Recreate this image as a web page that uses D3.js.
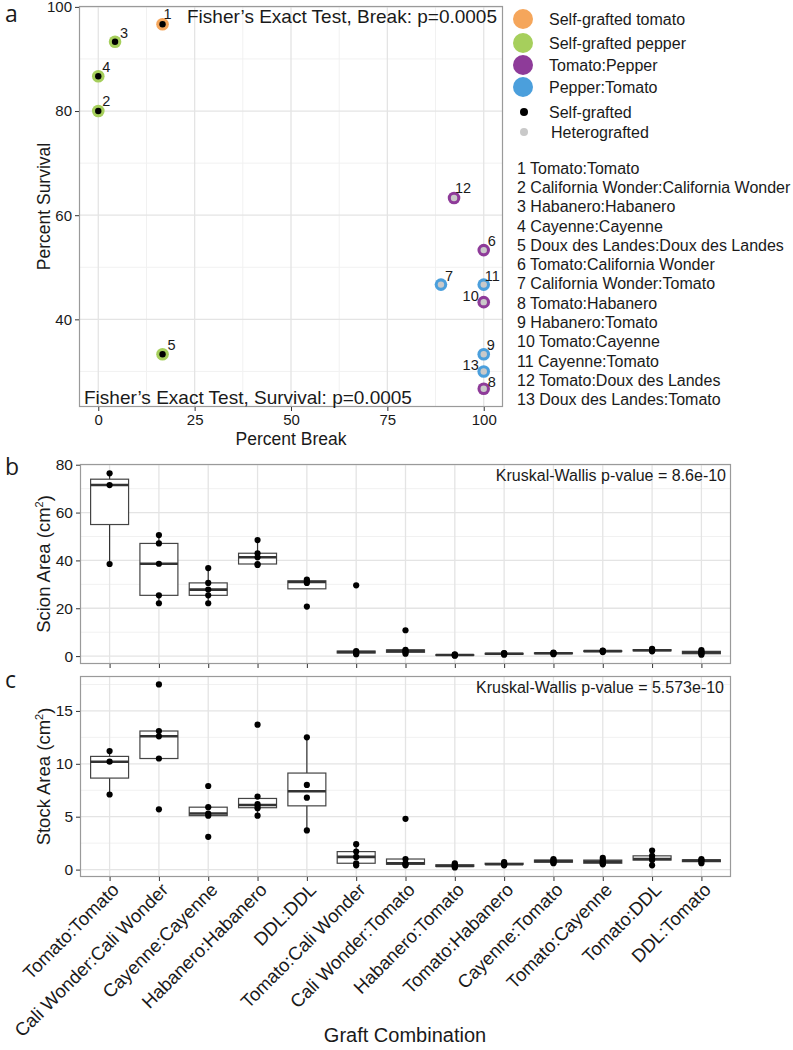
<!DOCTYPE html>
<html><head><meta charset="utf-8">
<script src="https://cdn.jsdelivr.net/npm/d3@7"></script>
<style>
body{margin:0;background:#fff}
svg{display:block}
text{font-family:"Liberation Sans",Arial,sans-serif;fill:#1a1a1a}
</style>
</head><body>
<svg id="chart" width="793" height="1050"></svg>
<script>
// ---------- DATA: panel a ----------
const graftIds = [1,2,3,4,5,6,7,8,9,10,11,12,13];
const graftNames = ["Tomato:Tomato","California Wonder:California Wonder","Habanero:Habanero","Cayenne:Cayenne",
  "Doux des Landes:Doux des Landes","Tomato:California Wonder","California Wonder:Tomato","Tomato:Habanero",
  "Habanero:Tomato","Tomato:Cayenne","Cayenne:Tomato","Tomato:Doux des Landes","Doux des Landes:Tomato"];
const groupNames = ["Self-grafted tomato","Self-grafted pepper","Tomato:Pepper","Pepper:Tomato"];
const typeNames = ["Self-grafted","Heterografted"];
const pointGroup = [0,1,1,1,1,2,3,2,3,2,3,2,3];
const pointType  = [0,0,0,0,0,1,1,1,1,1,1,1,1];
const percentBreak    = [16.67,0,4.35,0,16.67,100,88.9,100,100,100,100,92.3,100];
const percentSurvival = [96.67,80,93.3,86.67,33.3,53.3,46.67,26.67,33.3,43.3,46.67,63.3,30];
const breakTicks = [0,25,50,75,100];
const survivalTicks = [40,60,80,100];
const fisherBreak = "Fisher\u2019s Exact Test, Break: p=0.0005";
const fisherSurvival = "Fisher\u2019s Exact Test, Survival: p=0.0005";

// ---------- DATA: panels b, c ----------
const combos = ["Tomato:Tomato","Cali Wonder:Cali Wonder","Cayenne:Cayenne","Habanero:Habanero","DDL:DDL",
  "Tomato:Cali Wonder","Cali Wonder:Tomato","Habanero:Tomato","Tomato:Habanero","Cayenne:Tomato",
  "Tomato:Cayenne","Tomato:DDL","DDL:Tomato"];
const scionArea = [
  [38.5,71.5,76.4],
  [22.1,25.4,38.6,47.1,50.6],
  [22.1,25.4,27.8,30.6,36.8],
  [38.1,38.5,41.3,43.0,48.5],
  [20.7,30.6,31.3,32.0],
  [0.8,1.3,1.7,2.1,29.6],
  [1.0,1.6,2.2,2.6,10.8],
  [0.2,0.4,0.5,0.7],
  [0.6,0.9,1.1,1.3],
  [0.8,1.1,1.3,1.5],
  [1.7,2.0,2.2,2.3],
  [2.0,2.3,2.6,3.0],
  [0.6,1.0,1.5,2.0,2.5]
];
const stockArea = [
  [7.1,10.2,11.2],
  [5.7,10.5,12.6,13.1,17.5],
  [3.1,5.1,5.3,5.9,7.9],
  [5.1,5.8,6.0,6.2,6.9,13.7],
  [3.7,6.8,8.0,12.5],
  [0.4,0.6,1.2,1.7,2.4],
  [0.4,0.5,0.6,1.0,4.8],
  [0.2,0.3,0.35,0.45,0.6],
  [0.4,0.5,0.5,0.6,0.7],
  [0.6,0.7,0.8,0.9,1.0],
  [0.5,0.6,0.75,0.9,1.1],
  [0.4,0.9,1.0,1.3,1.8],
  [0.6,0.8,0.9,1.0]
];
const scionTicks = [0,20,40,60,80];
const stockTicks = [0,5,10,15];
const kwScion = "Kruskal-Wallis p-value = 8.6e-10";
const kwStock = "Kruskal-Wallis p-value = 5.573e-10";

// ---------- STYLE ----------
const groupColors = ["#f5a65b","#a6cf5c","#8e3b99","#4b9fdc"];
const typeColors = ["#000000","#c9c9c9"];
const labelOffsets = [[1,-10],[4,-10],[5,-9],[4,-9],[5,-9],[4,-9],[4,-9],[4,-7],[3,-9],[-5,-6],[1,-9],[1,-10],[-5,-7]];
const gridMajor = "#e4e4e4", gridMinor = "#f1f1f1", borderCol = "#9a9a9a", tickCol = "#333";

const svg = d3.select("#chart");

function panelBg(l,t,r,b){
  svg.append("rect").attr("x",l).attr("y",t).attr("width",r-l).attr("height",b-t).attr("fill","#fff");
}
function panelBorder(l,t,r,b){
  svg.append("rect").attr("x",l+0.5).attr("y",t+0.5).attr("width",r-l-1).attr("height",b-t-1)
    .attr("fill","none").attr("stroke",borderCol).attr("stroke-width",1.2);
}

// ---------- PANEL A ----------
const A = {l:79,r:503,t:6,b:407};
const ax = d3.scaleLinear().domain([-5,105]).range([A.l,A.r]);
const ay = d3.scaleLinear().domain([23.17,100.17]).range([A.b,A.t]);
panelBg(A.l,A.t,A.r,A.b);
const ga = svg.append("g");
ga.selectAll(".mx").data([12.5,37.5,62.5,87.5]).join("line")
  .attr("x1",d=>ax(d)).attr("x2",d=>ax(d)).attr("y1",A.t).attr("y2",A.b).attr("stroke",gridMinor).attr("stroke-width",1);
ga.selectAll(".my").data([30,50,70,90]).join("line")
  .attr("y1",d=>ay(d)).attr("y2",d=>ay(d)).attr("x1",A.l).attr("x2",A.r).attr("stroke",gridMinor).attr("stroke-width",1);
ga.selectAll(".Mx").data(breakTicks).join("line")
  .attr("x1",d=>ax(d)).attr("x2",d=>ax(d)).attr("y1",A.t).attr("y2",A.b).attr("stroke",gridMajor).attr("stroke-width",1.3);
ga.selectAll(".My").data(survivalTicks).join("line")
  .attr("y1",d=>ay(d)).attr("y2",d=>ay(d)).attr("x1",A.l).attr("x2",A.r).attr("stroke",gridMajor).attr("stroke-width",1.3);
panelBorder(A.l,A.t,A.r,A.b);

const axA = svg.append("g").attr("transform",`translate(0,${A.b})`)
  .call(d3.axisBottom(ax).tickValues(breakTicks).tickSize(4).tickPadding(3));
const ayA = svg.append("g").attr("transform",`translate(${A.l},0)`)
  .call(d3.axisLeft(ay).tickValues(survivalTicks).tickSize(4).tickPadding(3));
[axA,ayA].forEach(g=>{
  g.select(".domain").remove();
  g.selectAll(".tick line").attr("stroke",tickCol);
  g.selectAll(".tick text").attr("font-size",15).style("font-family","Liberation Sans, Arial").attr("fill","#1a1a1a");
});
svg.append("text").attr("x",(A.l+A.r)/2).attr("y",445).attr("text-anchor","middle").attr("font-size",17.5).text("Percent Break");
svg.append("text").attr("transform",`translate(50,${(A.t+A.b)/2}) rotate(-90)`).attr("text-anchor","middle").attr("font-size",17.5).text("Percent Survival");

const pts = graftIds.map((id,i)=>({id,x:percentBreak[i],y:percentSurvival[i],g:pointGroup[i],t:pointType[i],off:labelOffsets[i]}));
const gp = svg.append("g");
gp.selectAll("circle.o").data(pts).join("circle").attr("class","o")
  .attr("cx",d=>ax(d.x)).attr("cy",d=>ay(d.y)).attr("r",6.3).attr("fill",d=>groupColors[d.g]);
gp.selectAll("circle.i").data(pts).join("circle").attr("class","i")
  .attr("cx",d=>ax(d.x)).attr("cy",d=>ay(d.y)).attr("r",3.2).attr("fill",d=>typeColors[d.t]);
gp.selectAll("text").data(pts).join("text")
  .attr("x",d=>ax(d.x)+d.off[0]).attr("y",d=>ay(d.y)+d.off[1]).attr("dy","0.35em")
  .attr("text-anchor",d=>d.off[0]<0?"end":"start").attr("font-size",14.5).text(d=>d.id);

svg.append("text").attr("x",A.r-6).attr("y",23).attr("text-anchor","end").attr("font-size",19).text(fisherBreak);
svg.append("text").attr("x",A.l+5).attr("y",404).attr("text-anchor","start").attr("font-size",19).text(fisherSurvival);

// legend
const lg = svg.append("g");
const legY = [19,43,65,87];
groupNames.forEach((n,i)=>{
  lg.append("circle").attr("cx",523).attr("cy",legY[i]).attr("r",10).attr("fill",groupColors[i]);
  lg.append("text").attr("x",549).attr("y",legY[i]).attr("dy","0.35em").attr("font-size",16).text(n);
});
const typeY = [112,132];
typeNames.forEach((n,i)=>{
  lg.append("circle").attr("cx",524).attr("cy",typeY[i]).attr("r",4).attr("fill",typeColors[i]);
  lg.append("text").attr("x",i?551:549).attr("y",typeY[i]).attr("dy","0.35em").attr("font-size",16).text(n);
});
graftNames.forEach((n,i)=>{
  lg.append("text").attr("x",517).attr("y",168+i*19.3).attr("dy","0.35em").attr("font-size",16).text(graftIds[i]+" "+n);
});

// ---------- PANELS B & C ----------
function boxStats(v){
  const s = v.slice().sort(d3.ascending);
  const q1 = d3.quantile(s,0.25), med = d3.quantile(s,0.5), q3 = d3.quantile(s,0.75);
  const iqr = q3-q1;
  const lo = d3.min(s.filter(d=>d>=q1-1.5*iqr)), hi = d3.max(s.filter(d=>d<=q3+1.5*iqr));
  return {q1,med,q3,lo,hi,vals:s};
}
function boxPanel(P, data, ticks, minor, domain, showLabels){
  const x = d3.scalePoint().domain(combos).range([P.l,P.r]).padding(0.6);
  const y = d3.scaleLinear().domain(domain).range([P.b,P.t]);
  panelBg(P.l,P.t,P.r,P.b);
  const g = svg.append("g");
  g.selectAll(".my").data(minor).join("line")
    .attr("y1",d=>y(d)).attr("y2",d=>y(d)).attr("x1",P.l).attr("x2",P.r).attr("stroke",gridMinor).attr("stroke-width",1);
  g.selectAll(".My").data(ticks).join("line")
    .attr("y1",d=>y(d)).attr("y2",d=>y(d)).attr("x1",P.l).attr("x2",P.r).attr("stroke",gridMajor).attr("stroke-width",1.3);
  g.selectAll(".Mx").data(combos).join("line")
    .attr("x1",d=>x(d)).attr("x2",d=>x(d)).attr("y1",P.t).attr("y2",P.b).attr("stroke",gridMajor).attr("stroke-width",1.3);
  const bw = x.step()*0.77;
  const st = data.map((v,i)=>({c:combos[i],...boxStats(v)}));
  const bg = svg.append("g");
  bg.selectAll("line.w1").data(st).join("line")
    .attr("x1",d=>x(d.c)).attr("x2",d=>x(d.c)).attr("y1",d=>y(d.q3)).attr("y2",d=>y(d.hi)).attr("stroke","#333").attr("stroke-width",1.2);
  bg.selectAll("line.w2").data(st).join("line")
    .attr("x1",d=>x(d.c)).attr("x2",d=>x(d.c)).attr("y1",d=>y(d.q1)).attr("y2",d=>y(d.lo)).attr("stroke","#333").attr("stroke-width",1.2);
  bg.selectAll("rect").data(st).join("rect")
    .attr("x",d=>x(d.c)-bw/2).attr("width",bw).attr("y",d=>y(d.q3)).attr("height",d=>Math.max(0,y(d.q1)-y(d.q3)))
    .attr("fill","#fff").attr("stroke","#444").attr("stroke-width",1.2);
  bg.selectAll("line.m").data(st).join("line")
    .attr("x1",d=>x(d.c)-bw/2).attr("x2",d=>x(d.c)+bw/2).attr("y1",d=>y(d.med)).attr("y2",d=>y(d.med))
    .attr("stroke","#333").attr("stroke-width",2.6);
  const allPts = data.flatMap((v,i)=>v.map(val=>({c:combos[i],v:val})));
  bg.selectAll("circle").data(allPts).join("circle")
    .attr("cx",d=>x(d.c)).attr("cy",d=>y(d.v)).attr("r",3.1).attr("fill","#000");
  panelBorder(P.l,P.t,P.r,P.b);
  const xa = svg.append("g").attr("transform",`translate(0,${P.b})`)
    .call(d3.axisBottom(x).tickSize(4).tickPadding(2));
  const ya = svg.append("g").attr("transform",`translate(${P.l},0)`)
    .call(d3.axisLeft(y).tickValues(ticks).tickSize(4).tickPadding(3));
  [xa,ya].forEach(gg=>{
    gg.select(".domain").remove();
    gg.selectAll(".tick line").attr("stroke",tickCol);
    gg.selectAll(".tick text").attr("font-size",15.5).style("font-family","Liberation Sans, Arial").attr("fill","#1a1a1a");
  });
  if(showLabels){
    xa.selectAll(".tick text").attr("text-anchor","end").attr("y",0).attr("dy",0)
      .attr("transform","translate(10,14) rotate(-45)").attr("font-size",18.5);
  } else {
    xa.selectAll(".tick text").remove();
  }
  return {x,y};
}
const B = {l:80,r:731,t:464,b:664};
const C = {l:80,r:731,t:676,b:877};
boxPanel(B, scionArea, scionTicks, [10,30,50,70], [-3.3,80.3], false);
boxPanel(C, stockArea, stockTicks, [2.5,7.5,12.5,17.5], [-0.7,18.3], true);

svg.append("text").attr("x",B.r-5).attr("y",481).attr("text-anchor","end").attr("font-size",16).text(kwScion);
svg.append("text").attr("x",C.r-7).attr("y",693).attr("text-anchor","end").attr("font-size",16).text(kwStock);

function yTitle(cx, cy, main){
  const t = svg.append("text").attr("transform",`translate(${cx},${cy}) rotate(-90)`).attr("text-anchor","middle").attr("font-size",18.5);
  t.append("tspan").text(main+" (cm");
  t.append("tspan").attr("font-size",11).attr("dy","-0.6em").text("2");
  t.append("tspan").attr("dy","0.4em").text(")");
}
yTitle(50,(B.t+B.b)/2,"Scion Area");
yTitle(50,(C.t+C.b)/2,"Stock Area");
svg.append("text").attr("x",405).attr("y",1042).attr("text-anchor","middle").attr("font-size",20).text("Graft Combination");

[["a",22],["b",475],["c",688]].forEach(([l,yy])=>{
  svg.append("text").attr("x",5).attr("y",yy).attr("font-size",23).style("font-family","'Open Sans',sans-serif").text(l);
});
</script>
</body></html>
